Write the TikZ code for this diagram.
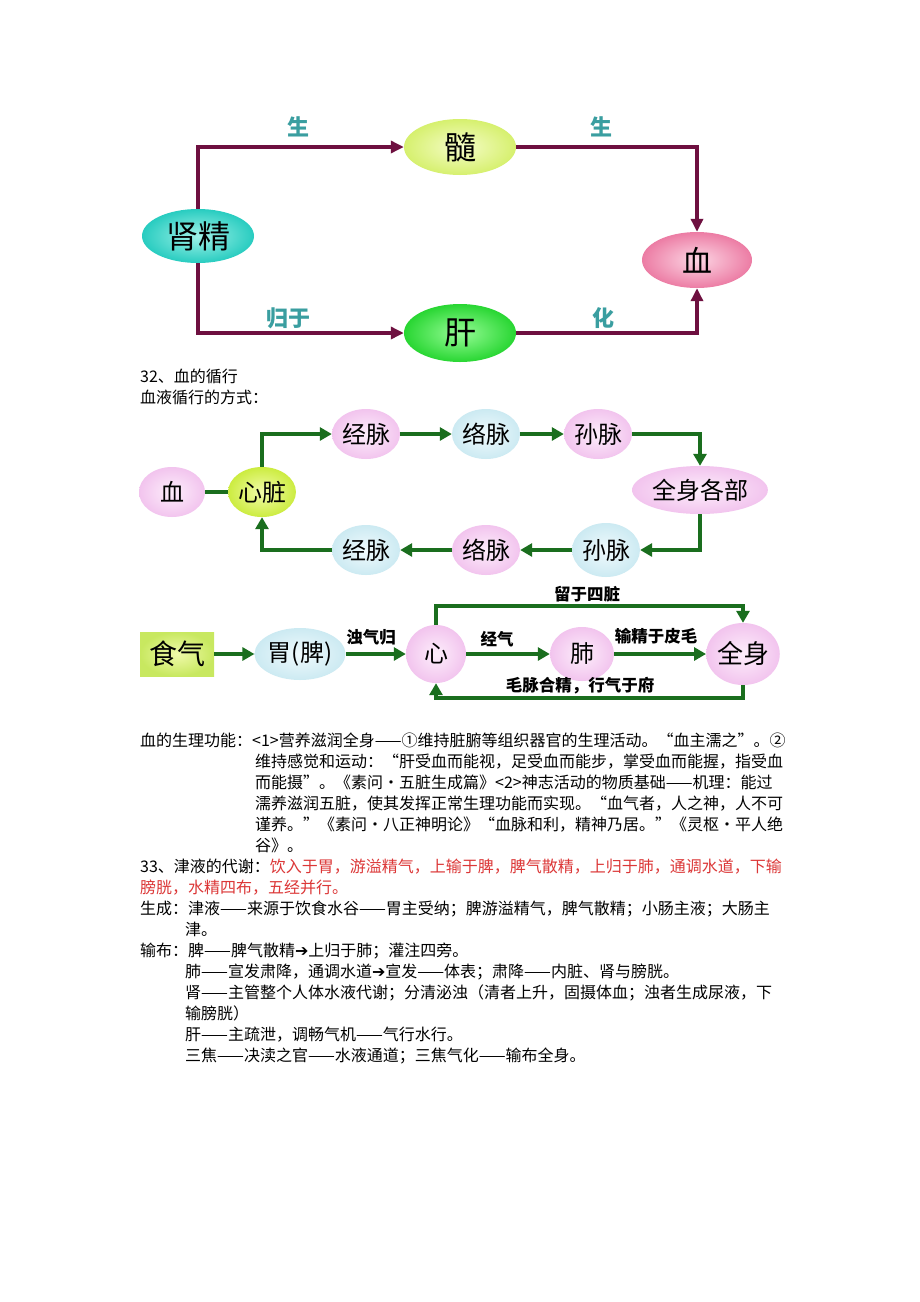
\documentclass[tikz,border=0pt]{standalone}
\usepackage{fontspec}
\setmainfont{Noto Sans CJK SC}
\newfontfamily\symfont{DejaVu Sans}
\usetikzlibrary{shapes.geometric,arrows.meta,positioning}
\definecolor{maroonline}{RGB}{110,16,64}
\definecolor{greenline}{RGB}{26,110,30}
\definecolor{tealtext}{RGB}{58,158,160}
\definecolor{redtext}{RGB}{220,55,55}

\begin{document}
\begin{tikzpicture}[x=1pt,y=-1pt,
  blob/.style={ellipse, inner sep=0pt},
  pinkblob/.style={blob, inner color={rgb,255:red,253;green,238;blue,251}, outer color={rgb,255:red,242;green,196;blue,238}},
  blueblob/.style={blob, inner color={rgb,255:red,240;green,250;blue,253}, outer color={rgb,255:red,204;green,234;blue,242}},
  mline/.style={draw=maroonline, line width=4pt, -{Triangle[length=13pt,width=12pt]}},
  gline/.style={draw=greenline, line width=4pt, -{Triangle[length=12pt,width=13pt]}},
  lab/.style={font=\fontsize{22}{22}\selectfont\bfseries, text=tealtext, inner sep=0pt},
  glab/.style={font=\fontsize{16.5}{16.5}\selectfont\bfseries, inner sep=0pt},
  txt/.style={anchor=base west, inner sep=0pt, font=\fontsize{16}{16}\selectfont}]
\useasboundingbox (0,0) rectangle (920,1302);
\fill[white] (0,0) rectangle (920,1302);

% kidney essence -> blood
\node[blob, minimum width=112, minimum height=54, font=\fontsize{32}{32}\selectfont,
  inner color={rgb,255:red,160;green,242;blue,232}, outer color={rgb,255:red,40;green,204;blue,192}] (jing) at (198,236) {肾精};
\node[blob, minimum width=112, minimum height=56, font=\fontsize{32}{32}\selectfont,
  inner color={rgb,255:red,245;green,252;blue,200}, outer color={rgb,255:red,214;green,240;blue,110}] (sui) at (460,147) {髓};
\node[blob, minimum width=112, minimum height=58, font=\fontsize{32}{32}\selectfont,
  inner color={rgb,255:red,150;green,252;blue,150}, outer color={rgb,255:red,40;green,214;blue,50}] (gan) at (460,333) {肝};
\node[blob, minimum width=110, minimum height=56, font=\fontsize{30}{30}\selectfont,
  inner color={rgb,255:red,252;green,214;blue,228}, outer color={rgb,255:red,236;green,124;blue,164}] (xue) at (697,260) {血};
\draw[mline] (jing.north) |- (sui.west);
\draw[mline] (sui.east) -| (xue.north);
\draw[mline] (jing.south) |- (gan.west);
\draw[mline] (gan.east) -| (xue.south);
\node[lab] (l1) at (298,127) {生};
\node[lab] (l2) at (601,127) {生};
\node[lab] (l3) at (288,318) {归于};
\node[lab] (l4) at (603,318) {化};

% headings
\node[txt] (h1) at (140,382) {32、血的循行};
\node[txt] (h2) at (140,403) {血液循行的方式：};

% circulation
\tikzstyle{every node}=[font=\fontsize{24}{24}\selectfont]
\node[pinkblob, minimum width=66, minimum height=50] (xueb) at (172,492) {血};
\node[blob, minimum width=62, minimum height=50,
  inner color={rgb,255:red,242;green,252;blue,170}, outer color={rgb,255:red,204;green,236;blue,64}] (xinz) at (262,492) {心脏};
\node[pinkblob, minimum width=68, minimum height=50] (jm1) at (366,434) {经脉};
\node[blueblob, minimum width=68, minimum height=50] (lm1) at (486,434) {络脉};
\node[pinkblob, minimum width=68, minimum height=50] (sm1) at (598,434) {孙脉};
\node[pinkblob, minimum width=132, minimum height=48] (qsgb) at (700,490) {全身各部};
\node[blueblob, minimum width=66, minimum height=54] (sm2) at (606,550) {孙脉};
\node[pinkblob, minimum width=68, minimum height=50] (lm2) at (486,550) {络脉};
\node[blueblob, minimum width=68, minimum height=50] (jm2) at (366,550) {经脉};
\draw[draw=greenline, line width=4pt] (xueb) -- (xinz);
\draw[gline] (xinz.north) |- (jm1.west);
\draw[gline] (jm1) -- (lm1);
\draw[gline] (lm1) -- (sm1);
\draw[gline] (sm1.east) -| (qsgb.north);
\draw[gline] (qsgb.south) |- (sm2.east);
\draw[gline] (sm2) -- (lm2);
\draw[gline] (lm2) -- (jm2);
\draw[gline] (jm2.west) -| (xinz.south);

% food qi
\node[draw=none, minimum width=74, minimum height=44, inner sep=0pt, font=\fontsize{28}{28}\selectfont,
  inner color={rgb,255:red,240;green,250;blue,170}, outer color={rgb,255:red,200;green,232;blue,96}] (shiqi) at (177,654) {食气};
\node[blueblob, minimum width=74, minimum height=52] (wei) at (300,654) {胃(脾)};
\node[pinkblob, minimum width=60, minimum height=58] (xin) at (436,654) {心};
\node[pinkblob, minimum width=64, minimum height=54] (fei) at (582,654) {肺};
\node[pinkblob, minimum width=68, minimum height=62, font=\fontsize{26}{26}\selectfont] (qs) at (743,654) {全身};
\draw[gline] (shiqi) -- (wei);
\draw[gline] (wei) -- (xin);
\draw[gline] (xin) -- (fei);
\draw[gline] (fei) -- (qs);
\draw[gline] (xin.north) -- (xin.north |- 0,606) -| (qs.north);
\draw[gline] (qs.south) -- (qs.south |- 0,698) -| (xin.south);
\node[glab] (g1) at (371,637) {浊气归};
\node[glab] (g2) at (497,639) {经气};
\node[glab] (g3) at (656,636) {输精于皮毛};
\node[glab] (g4) at (587,594) {留于四脏};
\node[glab] (g5) at (580,686) {毛脉合精，行气于府};

% body text
\tikzstyle{every node}=[]
\foreach \k/\xx/\t in {
  0/140/{血的生理功能：<1>营养滋润全身——①维持脏腑等组织器官的生理活动。“血主濡之”。②},
  1/255/{维持感觉和运动：“肝受血而能视，足受血而能步，掌受血而能握，指受血},
  2/255/{而能摄”。《素问·五脏生成篇》<2>神志活动的物质基础——机理：能过},
  3/255/{濡养滋润五脏，使其发挥正常生理功能而实现。“血气者，人之神，人不可},
  4/255/{谨养。”《素问·八正神明论》“血脉和利，精神乃居。”《灵枢·平人绝},
  5/255/{谷》。},
  6/140/{33、津液的代谢：\textcolor{redtext}{饮入于胃，游溢精气，上输于脾，脾气散精，上归于肺，通调水道，下输}},
  7/140/{\textcolor{redtext}{膀胱，水精四布，五经并行。}},
  8/140/{生成：津液——来源于饮食水谷——胃主受纳；脾游溢精气，脾气散精；小肠主液；大肠主},
  9/185/{津。},
  10/140/{输布：脾——脾气散精{\symfont ➔}上归于肺；灌注四旁。},
  11/185/{肺——宣发肃降，通调水道{\symfont ➔}宣发——体表；肃降——内脏、肾与膀胱。},
  12/185/{肾——主管整个人体水液代谢；分清泌浊（清者上升，固摄体血；浊者生成尿液，下},
  13/185/{输膀胱）},
  14/185/{肝——主疏泄，调畅气机——气行水行。},
  15/185/{三焦——决渎之官——水液通道；三焦气化——输布全身。}}
  \node[txt] (t\k) at (\xx,746+21*\k) {\t};
\end{tikzpicture}
\end{document}
